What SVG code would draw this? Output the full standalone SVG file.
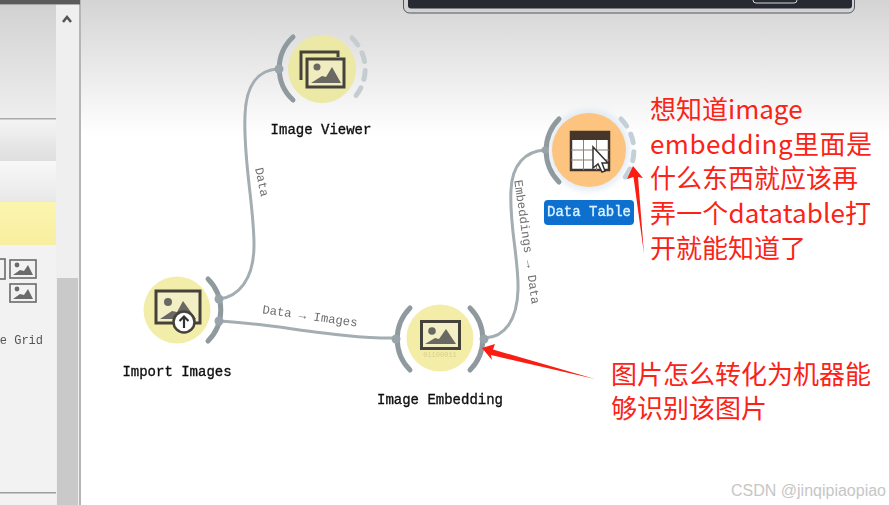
<svg xmlns="http://www.w3.org/2000/svg" xmlns:xlink="http://www.w3.org/1999/xlink" width="889" height="505" viewBox="0 0 889 505">
<style>
.lbl{font-family:"Liberation Mono",monospace;font-size:14px;fill:#111;text-anchor:middle;stroke:#111;stroke-width:0.35px}
.edge{font-family:"Liberation Mono",monospace;font-size:12.300px;fill:#6f6f6f;text-anchor:middle}
.conn{fill:none;stroke:#a3adb2;stroke-width:3;stroke-linecap:round}
.arc{fill:none;stroke:#8f9a9f;stroke-width:5;stroke-linecap:round}
.dash{fill:none;stroke:#c6cdd1;stroke-width:5;stroke-linecap:round;stroke-dasharray:9 9}
.port{fill:#98a4a9}
.ic{fill:none;stroke:#45423a;stroke-width:3}
.mt{fill:#6a6862}
.note{font-family:"Noto Sans CJK SC","Noto Sans",sans-serif;font-size:26px;fill:#fb2318}
.soft{filter:url(#soft)}
</style>
<defs>
<linearGradient id="bg" x1="0" y1="0" x2="0" y2="1"><stop offset="0" stop-color="#d4d4d4"/><stop offset="1" stop-color="#ffffff"/></linearGradient>
<linearGradient id="pa" x1="0" y1="0" x2="0" y2="1"><stop offset="0" stop-color="#d2d2d2"/><stop offset="1" stop-color="#eeeeee"/></linearGradient>
<linearGradient id="pb" x1="0" y1="0" x2="0" y2="1"><stop offset="0" stop-color="#f4f4f4"/><stop offset="1" stop-color="#dedede"/></linearGradient>
<linearGradient id="pc" x1="0" y1="0" x2="0" y2="1"><stop offset="0" stop-color="#f8f8f8"/><stop offset="1" stop-color="#e8e8e8"/></linearGradient>
<linearGradient id="py" x1="0" y1="0" x2="0" y2="1"><stop offset="0" stop-color="#fbf5ae"/><stop offset="1" stop-color="#f7eea0"/></linearGradient>
<filter id="soft" x="-10%" y="-10%" width="120%" height="120%"><feGaussianBlur stdDeviation="0.45"/></filter>
<filter id="glow" x="-30%" y="-30%" width="160%" height="160%"><feGaussianBlur stdDeviation="3"/></filter>
<symbol id="mini" viewBox="0 0 28 20" overflow="visible">
<rect x="1" y="1" width="26" height="18" fill="#f2f2f2" stroke="#6a6a6a" stroke-width="1.6"/>
<circle cx="8" cy="6" r="2.4" fill="#6a6a6a"/>
<path d="M4 16L11 11L15 12L19 6L24 16Z" fill="#6a6a6a"/>
</symbol>
</defs>

<rect width="889" height="505" fill="#ffffff"/>
<rect x="80" y="0" width="809" height="136" fill="url(#bg)"/>

<g id="sidebar">
<rect x="0" y="0" width="56" height="505" fill="#f2f2f3"/>
<rect x="0" y="5" width="56" height="113" fill="url(#pa)"/>
<rect x="0" y="118" width="56" height="1.5" fill="#a9a9a9"/>
<rect x="0" y="120" width="56" height="41" fill="url(#pb)"/>
<rect x="0" y="161" width="56" height="41" fill="url(#pc)"/>
<rect x="0" y="202" width="56" height="43" fill="url(#py)"/>
<rect x="0" y="492" width="56" height="1.5" fill="#9c9c9c"/>
<rect x="56" y="5" width="23" height="500" fill="#efeff0"/>
<rect x="57" y="278" width="21" height="227" fill="#c9c9c9"/>
<rect x="79" y="0" width="2" height="505" fill="#b5b5b5"/>
<rect x="0" y="0" width="80" height="4.500" fill="#5b5b5b"/>
<path d="M63 22L67 17L71 22" fill="none" stroke="#555" stroke-width="2.600"/>
<g class="soft">
<rect x="-22" y="259" width="27" height="20" fill="#f2f2f2" stroke="#6a6a6a" stroke-width="1.600"/>
<use xlink:href="#mini" href="#mini" x="9" y="259" width="28" height="20"/>
<use xlink:href="#mini" href="#mini" x="9" y="283" width="28" height="20"/>
<text x="43" y="344" text-anchor="end" font-family="Liberation Mono,monospace" font-size="12" fill="#555">e Grid</text>
</g>
</g>

<g id="window-edge">
<rect x="403.500" y="-12" width="451" height="25" rx="6" fill="#d2d2d4" stroke="#55565c" stroke-width="1"/>
<rect x="408" y="-12" width="444" height="20.500" rx="3" fill="#272a33"/>
<rect x="753" y="-8" width="44" height="11" rx="3" fill="none" stroke="#d5d5d5" stroke-width="1"/>
</g>

<g id="connectors" class="soft">
<path class="conn" d="M219 299C238 297 254 280 254 245C254 205 243 160 245 115C246 85 258 70 278 69"/>
<path class="conn" d="M219 321C270 323 340 339 396 338"/>
<path class="conn" d="M485 338C505 337 517 320 518 290C519 260 509 225 511 190C512 165 525 151 545 150"/>
<text class="edge" transform="translate(262 182) rotate(78)" y="4">Data</text>
<text class="edge" transform="translate(310 316) rotate(8)" y="4">Data → Images</text>
<text class="edge" transform="translate(527 242) rotate(82)" y="4">Embeddings → Data</text>
</g>

<g id="node-image-viewer" class="soft">
<circle cx="322" cy="69" r="34" fill="#ece8a6"/>
<path class="arc" d="M293 37A43 43 0 0 0 293 100"/>
<path class="dash" d="M352 38A43 43 0 0 1 352 100"/>
<circle class="port" cx="279" cy="69" r="4.500"/>
<path class="ic" d="M301 80V52H338V57"/>
<rect x="307" y="59" width="37" height="28" fill="#f0ecc0" stroke="#45423a" stroke-width="3"/>
<circle cx="317" cy="67" r="3.500" class="mt"/>
<path class="mt" d="M311 83L322 76L326 77L332 67L341 83Z"/>
<text class="lbl" x="321" y="134">Image Viewer</text>
</g>

<g id="node-import-images" class="soft">
<circle cx="177" cy="310" r="33.500" fill="#f2eeaa"/>
<path class="arc" d="M208 279A44 44 0 0 1 208 341"/>
<circle class="port" cx="219" cy="299" r="4.500"/>
<circle class="port" cx="219" cy="321" r="4.500"/>
<rect x="156" y="291" width="44" height="32" class="ic" style="fill:#f3efc4"/>
<circle cx="168" cy="302" r="4" class="mt"/>
<path class="mt" d="M160 319L172 311L177 312L183 301L196 319Z"/>
<circle cx="184" cy="322" r="10.500" fill="#fff" stroke="#45423a" stroke-width="2.500"/>
<path d="M184 328V317M179.500 321L184 316.500L188.500 321" fill="none" stroke="#333" stroke-width="2.200"/>
<text class="lbl" x="177" y="376">Import Images</text>
</g>

<g id="node-image-embedding" class="soft">
<circle cx="440" cy="338" r="33.500" fill="#f3eda8"/>
<path class="arc" d="M410 308A44 44 0 0 0 410 370"/>
<path class="arc" d="M470 308A44 44 0 0 1 470 370"/>
<circle class="port" cx="396" cy="339" r="4.500"/>
<circle class="port" cx="484" cy="339" r="4.500"/>
<rect x="421.500" y="321.500" width="38" height="27" class="ic" style="fill:#f3efc4"/>
<circle cx="432" cy="331" r="3.800" class="mt"/>
<path class="mt" d="M425 344L435 338L439 339L446 329L456 344Z"/>
<text x="440" y="357" text-anchor="middle" font-family="Liberation Mono,monospace" font-size="7" fill="#d8cf8c">01100011</text>
<text class="lbl" x="440" y="404">Image Embedding</text>
</g>

<g id="node-data-table" class="soft">
<circle cx="589" cy="150" r="41" fill="#d8e4f0" opacity="0.7" filter="url(#glow)"/>
<circle cx="589" cy="150" r="37" fill="#fcc47e"/>
<path class="arc" d="M559 119A45 45 0 0 0 559 182"/>
<path class="dash" d="M621 119A45 45 0 0 1 621 182" style="stroke:#c4d0d8"/>
<circle class="port" cx="545" cy="150" r="3.500"/>
<rect x="571" y="132" width="38" height="38" fill="#fff" stroke="#45352c" stroke-width="2.500"/>
<rect x="571" y="132" width="38" height="8" fill="#45352c"/>
<path d="M571 150H609M571 160H609M583.500 140V170M596.500 140V170" stroke="#8d8078" stroke-width="1" fill="none"/>
<path d="M593 147V168L598 164L602 172L605 171L602 163L608 163Z" fill="#fff" stroke="#333" stroke-width="1.500"/>
<rect x="544" y="200" width="90" height="25" rx="4" fill="#0a70cf"/>
<text class="lbl" x="589" y="216" style="fill:#dff2ff;stroke:#dff2ff">Data Table</text>
</g>

<g id="annotations">
<polygon points="482,348 495,344 493,349.500 595,379 491,355 492,360" fill="#fb1c12"/>
<polygon points="633,166 643,178 638,177 644,254 633.500,177 627,179" fill="#fb1c12"/>
<text class="note" x="650" y="119">想知道image</text>
<text class="note" x="650" y="154" textLength="222" lengthAdjust="spacing">embedding里面是</text>
<text class="note" x="650" y="188">什么东西就应该再</text>
<text class="note" x="650" y="223" textLength="221" lengthAdjust="spacing">弄一个datatable打</text>
<text class="note" x="650" y="258">开就能知道了</text>
<text class="note" x="611" y="384">图片怎么转化为机器能</text>
<text class="note" x="611" y="418">够识别该图片</text>
</g>

<text id="watermark" x="731" y="496" font-family="Liberation Sans,sans-serif" font-size="16" fill="#c6c6c6">CSDN @jinqipiaopiao</text>
</svg>
